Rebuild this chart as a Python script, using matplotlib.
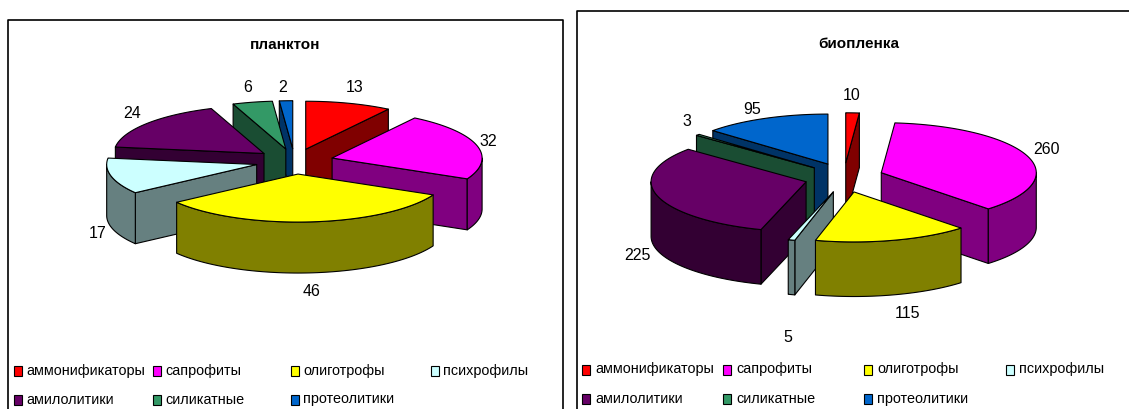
import numpy as np
import matplotlib
matplotlib.use("Agg")
import matplotlib.pyplot as plt
from matplotlib.patches import Polygon, Rectangle

plt.rcParams['font.family'] = ['Liberation Sans', 'DejaVu Sans']

# Данные
categories = ["аммонификаторы", "сапрофиты", "олиготрофы", "психрофилы",
              "амилолитики", "силикатные", "протеолитики"]
plankton = [13, 32, 46, 17, 24, 6, 2]
biofilm = [10, 260, 115, 5, 225, 3, 95]

# Цвета
top_colors = ["#FF0000", "#FF00FF", "#FFFF00", "#CCFFFF", "#660066", "#339966", "#0066CC"]
wall_colors = ["#800000", "#800080", "#808000", "#668080", "#330033", "#1A4D33", "#003366"]

# Подписи значений (в пикселях картинки)
plankton_labels = [(355, 87), (488, 142), (312, 291), (98, 233), (132, 113), (248, 88), (283, 87)]
biofilm_labels = [(852, 96), (1047, 150), (908, 314), (788, 338), (637, 255), (687, 122), (752, 110)]

# Колонки и строки легенды
plankton_cols = [13.5, 153, 291, 431]
biofilm_cols = [582, 723, 864, 1006]
plankton_rows = [371, 399.5]
biofilm_rows = [369.5, 399]


def draw_pie(ax, values, cx, cy, rx, ry, depth, ex, ey, label_xy):
    values = np.array(values, dtype=float)
    edges = np.concatenate([[0], np.cumsum(values)]) / values.sum() * 2 * np.pi
    mids = (edges[:-1] + edges[1:]) / 2

    # сначала дальние секторы, потом ближние
    for i in np.argsort(-np.cos(mids)):
        a1, a2 = edges[i], edges[i + 1]
        ax0 = cx + ex * np.sin(mids[i])
        ay0 = cy - ey * np.cos(mids[i])
        t = np.linspace(a1, a2, 80)
        arc_x = ax0 + rx * np.sin(t)
        arc_y = ay0 - ry * np.cos(t)
        style = dict(edgecolor="black", linewidth=0.8, joinstyle="round")

        # боковые грани
        if np.sin(a1) < 0:
            pts = [(ax0, ay0), (arc_x[0], arc_y[0]), (arc_x[0], arc_y[0] + depth), (ax0, ay0 + depth)]
            ax.add_patch(Polygon(pts, facecolor=wall_colors[i], **style))
        if np.sin(a2) > 0:
            pts = [(ax0, ay0), (arc_x[-1], arc_y[-1]), (arc_x[-1], arc_y[-1] + depth), (ax0, ay0 + depth)]
            ax.add_patch(Polygon(pts, facecolor=wall_colors[i], **style))

        # внешняя стенка, только передняя часть дуги
        lo, hi = max(a1, np.pi / 2), min(a2, 3 * np.pi / 2)
        if hi > lo:
            s = np.linspace(lo, hi, 80)
            wx = ax0 + rx * np.sin(s)
            wy = ay0 - ry * np.cos(s)
            pts = np.vstack([np.column_stack([wx, wy]), np.column_stack([wx[::-1], wy[::-1] + depth])])
            ax.add_patch(Polygon(pts, facecolor=wall_colors[i], **style))

        # верх сектора
        pts = np.vstack([[ax0, ay0], np.column_stack([arc_x, arc_y])])
        ax.add_patch(Polygon(pts, facecolor=top_colors[i], **style))

    for v, (x, y) in zip(values, label_xy):
        ax.text(x, y, str(int(v)), ha="center", va="center", fontsize=11.5)


def draw_legend(ax, cols, rows, gap):
    for i, name in enumerate(categories):
        x = cols[i % 4]
        y = rows[i // 4]
        ax.add_patch(Rectangle((x, y - 5), 8, 10, facecolor=top_colors[i], edgecolor="black", linewidth=0.8))
        ax.text(x + gap, y, name, ha="left", va="center", fontsize=10.4)


fig = plt.figure(figsize=(11.29, 4.09), dpi=100)
ax = fig.add_axes([0, 0, 1, 1])
ax.set_xlim(0, 1129)
ax.set_ylim(409, 0)
ax.axis("off")

# рамки
ax.plot([8, 8, 563, 563], [409, 19.5, 19.5, 409], color="black", linewidth=1.2)
ax.plot([576.5, 576.5, 1129], [409, 10.5, 10.5], color="black", linewidth=1.2)

ax.text(285.5, 45, "планктон", ha="center", va="center", fontsize=11, fontweight="bold")
ax.text(858.5, 44, "биопленка", ha="center", va="center", fontsize=11, fontweight="bold")

draw_pie(ax, plankton, 294.5, 161.4, 150, 48, 51, 39, 12.7, plankton_labels)
draw_pie(ax, biofilm, 844, 177.6, 155, 50, 54.6, 39.5, 14.8, biofilm_labels)

draw_legend(ax, plankton_cols, plankton_rows, 12.5)
draw_legend(ax, biofilm_cols, biofilm_rows, 13)

fig.savefig("out.png", dpi=100)
